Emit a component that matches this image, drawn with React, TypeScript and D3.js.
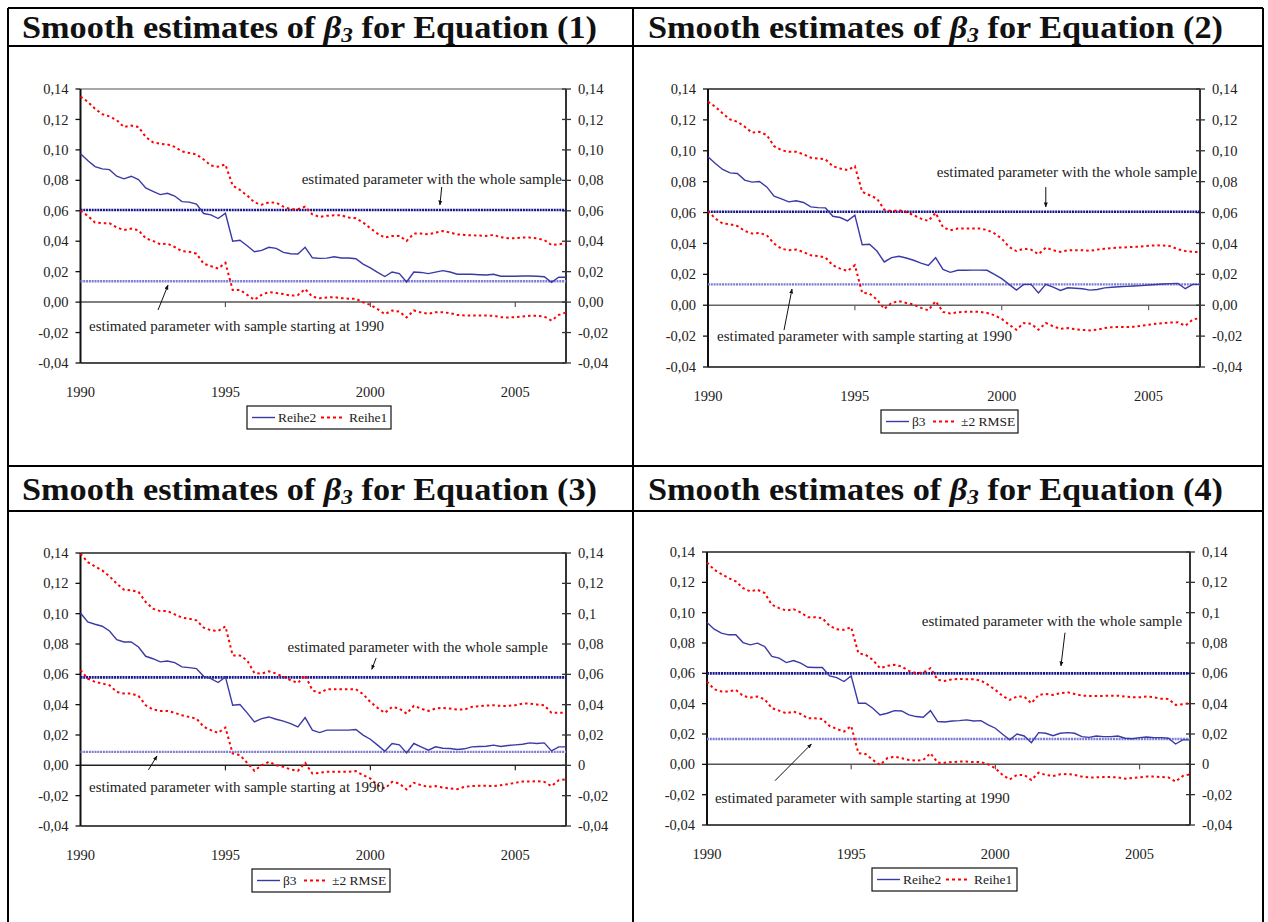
import * as d3 from 'd3';

// quarterly observations 1990Q1 .. 2006Q4
const quarters = d3.range(1990, 2007).flatMap((y) => [1, 2, 3, 4].map((q) => `${y}Q${q}`));
const yearTickIdx = [0, 20, 40, 60];
const yearLabels = ['1990', '1995', '2000', '2005'];
const yTicks = [0.14, 0.12, 0.1, 0.08, 0.06, 0.04, 0.02, 0, -0.02, -0.04];
const tickLabels = ['0,14', '0,12', '0,10', '0,08', '0,06', '0,04', '0,02', '0,00', '-0,02', '-0,04'];
const tickLabelsShort = ['0,14', '0,12', '0,1', '0,08', '0,06', '0,04', '0,02', '0', '-0,02', '-0,04'];

const equations = ['(1)', '(2)', '(3)', '(4)'];
const legendLabels = [['Reihe2', 'Reihe1'], ['β3', '±2 RMSE'], ['β3', '±2 RMSE'], ['Reihe2', 'Reihe1']];
const annWhole = 'estimated parameter with the whole sample';
const annStart = 'estimated parameter with sample starting at 1990';

const wholeSample = [0.0605, 0.0605, 0.058, 0.06];
const sampleFrom1990 = [0.0137, 0.0135, 0.0089, 0.0167];

const beta1 = [0.0975, 0.093, 0.089, 0.0875, 0.087, 0.0827, 0.081, 0.0827, 0.0805, 0.075,
  0.0728, 0.0706, 0.0715, 0.0697, 0.066, 0.0657, 0.0644, 0.0582, 0.0573, 0.0549,
  0.0584, 0.040, 0.0406, 0.037, 0.0331, 0.034, 0.036, 0.0353, 0.0327, 0.0318,
  0.0316, 0.036, 0.0291, 0.0287, 0.0289, 0.0298, 0.029, 0.029, 0.0285, 0.025,
  0.0225, 0.0195, 0.0168, 0.0198, 0.0187, 0.0132, 0.0198, 0.0195, 0.0187, 0.0197,
  0.0207, 0.0198, 0.0183, 0.0183, 0.0183, 0.018, 0.0178, 0.0183, 0.017, 0.017,
  0.017, 0.0172, 0.0172, 0.017, 0.0167, 0.013, 0.0163, 0.0163];
const upper1 = [0.135, 0.1316, 0.127, 0.1235, 0.122, 0.1195, 0.115, 0.116, 0.115, 0.1085,
  0.105, 0.104, 0.1036, 0.102, 0.099, 0.098, 0.097, 0.0937, 0.0897, 0.089,
  0.0904, 0.0765, 0.0737, 0.070, 0.0655, 0.064, 0.0655, 0.0653, 0.0627, 0.061,
  0.061, 0.0627, 0.0576, 0.056, 0.0567, 0.0571, 0.057, 0.0556, 0.0551, 0.0523,
  0.0485, 0.045, 0.0424, 0.0435, 0.0435, 0.0402, 0.045, 0.045, 0.0445, 0.0457,
  0.0467, 0.0457, 0.0445, 0.0441, 0.0439, 0.0437, 0.0435, 0.0441, 0.0427, 0.0419,
  0.0419, 0.0424, 0.0424, 0.0419, 0.0408, 0.0375, 0.038, 0.0386];
const lower1 = [0.060, 0.0567, 0.0523, 0.0518, 0.0518, 0.049, 0.0474, 0.0483, 0.0472, 0.0419,
  0.0402, 0.038, 0.0384, 0.0362, 0.0335, 0.0331, 0.0318, 0.0252, 0.0236, 0.0221,
  0.0258, 0.008, 0.008, 0.0048, 0.0015, 0.0048, 0.0066, 0.006, 0.0053, 0.0042,
  0.0046, 0.0086, 0.0035, 0.0026, 0.003, 0.0033, 0.0026, 0.0022, 0.0022, -0.0002,
  -0.0018, -0.0046, -0.0079, -0.0055, -0.0062, -0.0101, -0.0055, -0.0068, -0.0077, -0.0066,
  -0.0066, -0.0073, -0.0084, -0.0088, -0.0088, -0.0088, -0.0088, -0.009, -0.0099, -0.0101,
  -0.0099, -0.0095, -0.009, -0.009, -0.0095, -0.0121, -0.0084, -0.0068];

const beta2 = [0.0961, 0.0918, 0.0879, 0.0857, 0.0853, 0.081, 0.0797, 0.0801, 0.0766, 0.0706,
  0.0689, 0.0669, 0.0676, 0.0665, 0.0637, 0.0632, 0.063, 0.0576, 0.0568, 0.0546,
  0.0583, 0.0392, 0.0395, 0.0351, 0.028, 0.0308, 0.0317, 0.0306, 0.0291, 0.0273,
  0.0258, 0.0308, 0.0232, 0.0213, 0.0226, 0.0226, 0.0227, 0.0227, 0.0226, 0.02,
  0.0172, 0.0135, 0.0098, 0.0135, 0.0135, 0.008, 0.0135, 0.0117, 0.0096, 0.0113,
  0.011, 0.0107, 0.0098, 0.0102, 0.0112, 0.0116, 0.012, 0.0122, 0.0124, 0.0127,
  0.0131, 0.0134, 0.0137, 0.014, 0.0141, 0.0107, 0.0135, 0.0135];
const upper2 = [0.1318, 0.1285, 0.1242, 0.1203, 0.1188, 0.1156, 0.1117, 0.1123, 0.1102, 0.103,
  0.1004, 0.0993, 0.0993, 0.0978, 0.0955, 0.095, 0.0944, 0.09, 0.0885, 0.0875,
  0.09, 0.0734, 0.0712, 0.0691, 0.0619, 0.0609, 0.0615, 0.0604, 0.0583, 0.0561,
  0.0546, 0.0598, 0.0505, 0.0485, 0.0496, 0.0496, 0.0496, 0.0496, 0.0488, 0.0465,
  0.0431, 0.0377, 0.0351, 0.0366, 0.036, 0.033, 0.0373, 0.0356, 0.0345, 0.0356,
  0.0356, 0.0356, 0.0352, 0.036, 0.0366, 0.037, 0.0373, 0.0375, 0.0378, 0.038,
  0.0385, 0.0388, 0.0386, 0.0382, 0.0362, 0.0351, 0.0345, 0.0345];
const lower2 = [0.0609, 0.0561, 0.0529, 0.0524, 0.0513, 0.0481, 0.0464, 0.0468, 0.0453, 0.0399,
  0.0366, 0.0356, 0.036, 0.0345, 0.0323, 0.0319, 0.0308, 0.0258, 0.0237, 0.0222,
  0.0259, 0.008, 0.0076, 0.0037, -0.0024, 0.0015, 0.0026, 0.0015, 0.0004, -0.0017,
  -0.0033, 0.0026, -0.0043, -0.0054, -0.0046, -0.0043, -0.0043, -0.0043, -0.005, -0.0065,
  -0.0089, -0.0126, -0.0159, -0.0115, -0.012, -0.0159, -0.0115, -0.0137, -0.0152, -0.0148,
  -0.0155, -0.016, -0.0163, -0.0158, -0.0148, -0.0142, -0.0141, -0.0141, -0.0139, -0.0133,
  -0.0126, -0.012, -0.0115, -0.0112, -0.0111, -0.0133, -0.0093, -0.0083];

const beta3 = [0.1004, 0.0945, 0.093, 0.0917, 0.0886, 0.0829, 0.0813, 0.0813, 0.078, 0.0719,
  0.0703, 0.0682, 0.0688, 0.0677, 0.0649, 0.0644, 0.0638, 0.0587, 0.0572, 0.0546,
  0.0583, 0.0396, 0.0401, 0.0346, 0.0286, 0.0308, 0.0319, 0.0304, 0.0291, 0.0275,
  0.0254, 0.0315, 0.0232, 0.0216, 0.0232, 0.0232, 0.0232, 0.0232, 0.0236, 0.0199,
  0.0172, 0.0133, 0.0093, 0.0144, 0.0135, 0.0082, 0.0144, 0.0122, 0.01, 0.0122,
  0.0113, 0.0111, 0.0104, 0.0109, 0.0122, 0.0124, 0.0126, 0.0133, 0.0124, 0.0131,
  0.0135, 0.0139, 0.0148, 0.0144, 0.0148, 0.0095, 0.0122, 0.0122];
const upper3 = [0.1395, 0.134, 0.1312, 0.1285, 0.1246, 0.1198, 0.1158, 0.1154, 0.1143, 0.1077,
  0.1033, 0.1017, 0.1017, 0.0995, 0.0974, 0.0967, 0.0956, 0.0908, 0.089, 0.0886,
  0.0916, 0.0725, 0.0725, 0.0692, 0.0609, 0.0605, 0.062, 0.0605, 0.0583, 0.0561,
  0.0543, 0.0594, 0.0495, 0.0477, 0.0502, 0.0502, 0.0502, 0.0502, 0.0502, 0.0469,
  0.0418, 0.0379, 0.0346, 0.0385, 0.0374, 0.0341, 0.0392, 0.0374, 0.0359, 0.0374,
  0.0379, 0.0374, 0.0368, 0.0368, 0.0385, 0.039, 0.0394, 0.0396, 0.0392, 0.0392,
  0.0396, 0.0407, 0.0407, 0.0401, 0.0396, 0.0346, 0.0346, 0.0346];
const lower3 = [0.0627, 0.0572, 0.055, 0.0539, 0.0528, 0.0484, 0.0473, 0.0473, 0.0458, 0.0396,
  0.0368, 0.0359, 0.0359, 0.0346, 0.033, 0.0319, 0.0308, 0.0254, 0.0232, 0.0214,
  0.0249, 0.0078, 0.0067, 0.0016, -0.0036, 0.0001, 0.0023, 0.0001, -0.001, -0.0027,
  -0.0036, 0.0016, -0.0054, -0.0049, -0.0043, -0.0043, -0.0043, -0.0043, -0.0038, -0.0065,
  -0.0087, -0.0131, -0.0153, -0.0109, -0.012, -0.0159, -0.0115, -0.0131, -0.0142, -0.0137,
  -0.0146, -0.0153, -0.0157, -0.0142, -0.0137, -0.0135, -0.0135, -0.0137, -0.0131, -0.0124,
  -0.0115, -0.0107, -0.0107, -0.0104, -0.0109, -0.0137, -0.0098, -0.0093];

const beta4 = [0.0935, 0.0891, 0.0865, 0.0854, 0.0854, 0.0803, 0.0788, 0.0799, 0.0777, 0.0711,
  0.07, 0.0671, 0.0684, 0.0667, 0.064, 0.0638, 0.0638, 0.0583, 0.0572, 0.0546,
  0.0583, 0.0403, 0.0403, 0.037, 0.0326, 0.0337, 0.0354, 0.0352, 0.0326, 0.0315,
  0.031, 0.0354, 0.0282, 0.0279, 0.0286, 0.0288, 0.0293, 0.0286, 0.0288, 0.026,
  0.0238, 0.0198, 0.0161, 0.02, 0.0187, 0.0143, 0.0209, 0.0205, 0.0189, 0.0205,
  0.0209, 0.0205, 0.0183, 0.0178, 0.0187, 0.0183, 0.0183, 0.0187, 0.0172, 0.0169,
  0.0176, 0.018, 0.0176, 0.0176, 0.0172, 0.0134, 0.0161, 0.0161];
const upper4 = [0.1331, 0.1283, 0.1254, 0.1228, 0.1206, 0.1162, 0.114, 0.1151, 0.1129, 0.1052,
  0.103, 0.1014, 0.1023, 0.1001, 0.097, 0.097, 0.0964, 0.0913, 0.0891, 0.0887,
  0.0904, 0.0733, 0.0722, 0.0689, 0.0634, 0.0649, 0.0656, 0.0645, 0.0616, 0.0601,
  0.0605, 0.0634, 0.0557, 0.055, 0.0561, 0.0563, 0.0561, 0.0561, 0.0552, 0.0524,
  0.0491, 0.0451, 0.0425, 0.0447, 0.0447, 0.0403, 0.0458, 0.0464, 0.0458, 0.0469,
  0.0475, 0.0464, 0.0453, 0.0451, 0.0451, 0.0451, 0.0453, 0.0453, 0.0447, 0.0442,
  0.0442, 0.0447, 0.0442, 0.0433, 0.0431, 0.0392, 0.0396, 0.0403];
const lower4 = [0.0546, 0.0495, 0.048, 0.048, 0.0491, 0.0451, 0.044, 0.0447, 0.0429, 0.037,
  0.0354, 0.0337, 0.0348, 0.0332, 0.0304, 0.0304, 0.0299, 0.0253, 0.0233, 0.0216,
  0.0253, 0.0073, 0.0068, 0.0029, -0.0004, 0.004, 0.0051, 0.004, 0.0029, 0.0024,
  0.0029, 0.0073, 0.0011, 0.0011, 0.0015, 0.0018, 0.0018, 0.0015, 0.0015, 0,
  -0.0026, -0.007, -0.0099, -0.007, -0.007, -0.0103, -0.0055, -0.007, -0.0077, -0.0066,
  -0.0064, -0.007, -0.0081, -0.0086, -0.0086, -0.0084, -0.0084, -0.0086, -0.0095, -0.009,
  -0.0086, -0.0081, -0.0081, -0.0084, -0.0086, -0.0114, -0.0077, -0.0066];

const betas = [beta1, beta2, beta3, beta4];
const uppers = [upper1, upper2, upper3, upper4];
const lowers = [lower1, lower2, lower3, lower4];

// layout of each panel (pixels) and annotation anchors (quarter index, value)
const panels = [
  { titleX: 22, titleY: 38, left: 80.5, right: 566, top: 89, bottom: 363, frame: '#8a8a8a', zero: '#555',
    rightLabels: tickLabels, legendX: 247, legendW: 144, redX: 74,
    wholeText: [66.45, 0.0776], wholeArrow: [[49.85, 0.0756], [49.6, 0.0638]],
    startText: [1.17, -0.0188], startArrow: [[10.7, -0.0052], [12.08, 0.0112]] },
  { titleX: 648, titleY: 38, left: 708, right: 1200, top: 89, bottom: 367, frame: '#222', zero: '#666',
    rightLabels: tickLabels, legendX: 881, legendW: 137, redX: 52,
    wholeText: [66.6, 0.083], wholeArrow: [[46.0, 0.0765], [46.0, 0.0636]],
    startText: [1.23, -0.023], startArrow: [[10.35, -0.0161], [11.44, 0.0105]] },
  { titleX: 22, titleY: 500, left: 80.5, right: 566, top: 553, bottom: 826, frame: '#222', zero: '#222',
    rightLabels: tickLabelsShort, legendX: 252, legendW: 138, redX: 52,
    wholeText: [64.5, 0.0749], wholeArrow: [[40.8, 0.0708], [40.2, 0.0633]],
    startText: [1.17, -0.0175], startArrow: [[9.37, -0.003], [10.56, 0.0062]] },
  { titleX: 648, titleY: 500, left: 707, right: 1190, top: 552, bottom: 825, frame: '#222', zero: '#555',
    rightLabels: tickLabelsShort, legendX: 872, legendW: 145, redX: 74,
    wholeText: [65.9, 0.0912], wholeArrow: [[49.66, 0.0868], [49.1, 0.0649]],
    startText: [1.1, -0.0255], startArrow: [[9.43, -0.0108], [14.48, 0.0134]] },
];

const font = "'Liberation Serif', 'Times New Roman', serif";
const blue = '#3a3aa6';
const red = '#ff0000';

const Panel = ({ k }: { k: number }) => {
  const p = panels[k];
  const x = d3.scaleLinear().domain([0, quarters.length - 1]).range([p.left, p.right]);
  const y = d3.scaleLinear().domain([-0.04, 0.14]).range([p.bottom, p.top]);
  const line = d3.line<number>().x((_, i) => x(i)).y((d) => y(d));
  const ly = p.bottom + 43;
  const lx = p.legendX;
  const [l1, l2] = legendLabels[k];

  return (
    <g>
      <text x={p.titleX} y={p.titleY} fontFamily={font} fontWeight="bold" fontSize={31} fill="#111"
        textLength={575} lengthAdjust="spacingAndGlyphs">
        Smooth estimates of <tspan fontStyle="italic">β</tspan>
        <tspan fontStyle="italic" fontSize={21} dy={4}>3</tspan>
        <tspan dy={-4}> for Equation {equations[k]}</tspan>
      </text>

      {/* frame */}
      <line x1={p.left} x2={p.right} y1={p.top} y2={p.top} stroke={p.frame} strokeWidth={1.5} />
      <line x1={p.left} x2={p.right} y1={p.bottom} y2={p.bottom} stroke="#111" strokeWidth={1.5} />
      <line x1={p.left} x2={p.right} y1={y(0)} y2={y(0)} stroke={p.zero} strokeWidth={1.5} />
      {yearTickIdx.slice(1).map((i) => (
        <line key={i} x1={x(i)} x2={x(i)} y1={y(0)} y2={y(0) + 5} stroke={p.zero} strokeWidth={1.2} />
      ))}

      {/* left axis */}
      <line x1={p.left} x2={p.left} y1={p.top} y2={p.bottom} stroke="#111" strokeWidth={2} />
      {yTicks.map((t, i) => (
        <g key={'l' + i}>
          <line x1={p.left - 5} x2={p.left} y1={y(t)} y2={y(t)} stroke="#111" strokeWidth={1.3} />
          <text x={p.left - 12} y={y(t)} dy="0.35em" textAnchor="end" fontFamily={font} fontSize={14.5} fill="#222">
            {tickLabels[i]}
          </text>
        </g>
      ))}

      {/* right axis */}
      <line x1={p.right} x2={p.right} y1={p.top} y2={p.bottom} stroke="#333" strokeWidth={2} />
      {yTicks.map((t, i) => (
        <g key={'r' + i}>
          <line x1={p.right - 4} x2={p.right + 5} y1={y(t)} y2={y(t)} stroke="#333" strokeWidth={1.3} />
          <text x={p.right + 12} y={y(t)} dy="0.35em" fontFamily={font} fontSize={14.5} fill="#222">
            {p.rightLabels[i]}
          </text>
        </g>
      ))}

      {/* year labels */}
      {yearTickIdx.map((i, j) => (
        <text key={i} x={x(i)} y={p.bottom + 29} dy="0.35em" textAnchor="middle" fontFamily={font} fontSize={14.5} fill="#222">
          {yearLabels[j]}
        </text>
      ))}

      {/* reference levels */}
      <line x1={p.left} x2={p.right} y1={y(wholeSample[k])} y2={y(wholeSample[k])} stroke="#14148c" strokeWidth={2.6} strokeDasharray="2,0.8" />
      <line x1={p.left} x2={p.right} y1={y(sampleFrom1990[k])} y2={y(sampleFrom1990[k])} stroke="#7d7dd2" strokeWidth={2.4} strokeDasharray="2,0.8" />

      {/* series */}
      <path d={line(uppers[k]) || ''} fill="none" stroke={red} strokeWidth={2} strokeDasharray="2.5,3" />
      <path d={line(lowers[k]) || ''} fill="none" stroke={red} strokeWidth={2} strokeDasharray="2.5,3" />
      <path d={line(betas[k]) || ''} fill="none" stroke={blue} strokeWidth={1.4} />

      {/* annotations */}
      <text x={x(p.wholeText[0])} y={y(p.wholeText[1])} textAnchor="end" fontFamily={font} fontSize={15} fill="#222">
        {annWhole}
      </text>
      <line x1={x(p.wholeArrow[0][0])} y1={y(p.wholeArrow[0][1])} x2={x(p.wholeArrow[1][0])} y2={y(p.wholeArrow[1][1])}
        stroke="#111" strokeWidth={1} markerEnd="url(#arrowhead)" />
      <text x={x(p.startText[0])} y={y(p.startText[1])} fontFamily={font} fontSize={15} fill="#222">
        {annStart}
      </text>
      <line x1={x(p.startArrow[0][0])} y1={y(p.startArrow[0][1])} x2={x(p.startArrow[1][0])} y2={y(p.startArrow[1][1])}
        stroke="#111" strokeWidth={1} markerEnd="url(#arrowhead)" />

      {/* legend */}
      <rect x={lx} y={ly} width={p.legendW} height={23} fill="white" stroke="#111" strokeWidth={1.2} />
      <line x1={lx + 5} x2={lx + 28} y1={ly + 11.5} y2={ly + 11.5} stroke={blue} strokeWidth={1.4} />
      <text x={lx + 31} y={ly + 11.5} dy="0.35em" fontFamily={font} fontSize={13.5} fill="#222">{l1}</text>
      <line x1={lx + p.redX} x2={lx + p.redX + 24} y1={ly + 11.5} y2={ly + 11.5} stroke={red} strokeWidth={2} strokeDasharray="3,3" />
      <text x={lx + p.redX + 28} y={ly + 11.5} dy="0.35em" fontFamily={font} fontSize={13.5} fill="#222">{l2}</text>
    </g>
  );
};

export default function App() {
  return (
    <svg width={1268} height={922} style={{ position: 'absolute', left: 0, top: 0, background: 'white' }}>
      <defs>
        <marker id="arrowhead" viewBox="0 0 10 10" refX={9} refY={5} markerWidth={5} markerHeight={5} orient="auto">
          <path d="M0,1 L10,5 L0,9 z" fill="#111" />
        </marker>
      </defs>
      <rect width={1268} height={922} fill="white" />
      {/* table grid */}
      <g stroke="#000" strokeWidth={2}>
        <line x1={8} x2={1263} y1={8} y2={8} />
        <line x1={8} x2={1263} y1={46} y2={46} />
        <line x1={8} x2={1263} y1={466} y2={466} />
        <line x1={8} x2={1263} y1={511} y2={511} />
        <line x1={8} x2={8} y1={8} y2={922} />
        <line x1={633} x2={633} y1={8} y2={922} />
        <line x1={1263} x2={1263} y1={8} y2={922} />
      </g>
      {panels.map((_, k) => <Panel key={k} k={k} />)}
    </svg>
  );
}
